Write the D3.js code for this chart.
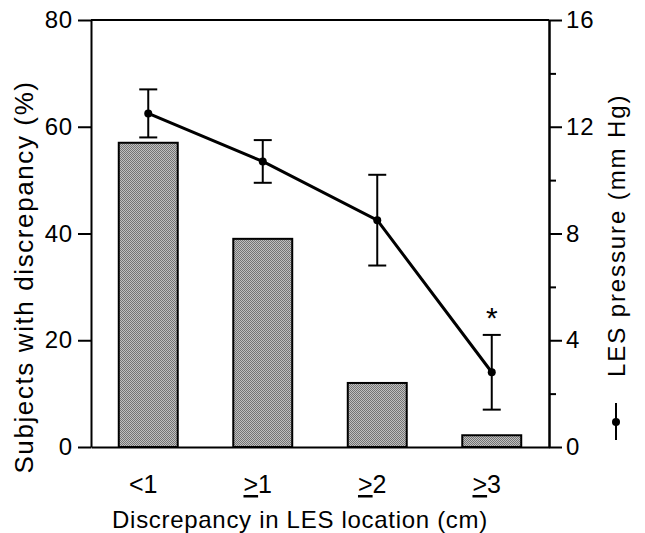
<!DOCTYPE html>
<html>
<head>
<meta charset="utf-8">
<script src="https://cdn.jsdelivr.net/npm/d3@7"></script>
<style>
  body { margin: 0; background: #fff; }
  svg text { font-family: Arial, "Liberation Sans", Helvetica, sans-serif; fill: #000; }
</style>
</head>
<body>
<div class="vis"></div>
<script>
// discrepancy groups (cm)
const categories = ['<1', '≥1', '≥2', '≥3']
// bars: subjects with discrepancy (%)
const subjectsPct = [57, 39, 12, 2.2]
// line: LES pressure (mm Hg), mean and error
const lesPressure = [12.5, 10.7, 8.5, 2.8]
const lesError = [0.9, 0.8, 1.7, 1.4]
const significant = [false, false, false, true]

const leftTicks = [0, 20, 40, 60, 80]
const rightTicks = [0, 4, 8, 12, 16]
const rightMinorTicks = [2, 6, 10, 14]

const w = 645
const h = 533
const margin = { top: 20, right: 96, bottom: 86, left: 91 }

const points = categories.map((c, i) => ({
    cat: c,
    value: lesPressure[i],
    err: lesError[i],
    sig: significant[i]
}))

const svg = d3.select('.vis')
    .append('svg')
    .attr('width', w)
    .attr('height', h)

// dithered grey fill for the bars
const pat = svg.append('defs').append('pattern')
    .attr('id', 'dots')
    .attr('width', 2)
    .attr('height', 2)
    .attr('patternUnits', 'userSpaceOnUse')
pat.append('rect').attr('width', 2).attr('height', 2).attr('fill', '#c0c0c0')
pat.append('rect').attr('width', 1).attr('height', 1).attr('fill', '#747474')
pat.append('rect').attr('x', 1).attr('y', 1).attr('width', 1).attr('height', 1).attr('fill', '#747474')

// scales
const xScale = d3.scaleBand()
    .domain(categories)
    .range([margin.left, w - margin.right])
    .paddingInner(0.485)
    .paddingOuter(0.2425)

const yLeft = d3.scaleLinear()
    .domain([0, 80])
    .range([h - margin.bottom, margin.top])

const yRight = d3.scaleLinear()
    .domain([0, 16])
    .range([h - margin.bottom, margin.top])

const cx = (c) => xScale(c) + xScale.bandwidth() / 2

// bars
svg.selectAll('rect.bar')
    .data(categories)
    .enter().append('rect')
    .attr('class', 'bar')
    .attr('x', (d) => xScale(d))
    .attr('width', xScale.bandwidth())
    .attr('y', (d, i) => yLeft(subjectsPct[i]))
    .attr('height', (d, i) => yLeft(0) - yLeft(subjectsPct[i]))
    .attr('fill', 'url(#dots)')
    .attr('stroke', '#000')
    .attr('stroke-width', 2)

// axes
const axisStyle = (g) => {
    g.select('.domain').attr('stroke', '#000').attr('stroke-width', 2)
    g.selectAll('.tick line').attr('stroke', '#000').attr('stroke-width', 2)
    g.selectAll('.tick text')
        .attr('font-size', 24)
        .attr('letter-spacing', 0.8)
        .attr('font-family', 'Arial, "Liberation Sans", sans-serif')
}

svg.append('g')
    .attr('class', 'y-left')
    .attr('transform', 'translate(' + margin.left + ',0)')
    .call(d3.axisLeft(yLeft).tickValues(leftTicks).tickSize(13).tickPadding(5).tickSizeOuter(0))
    .call(axisStyle)

svg.append('g')
    .attr('class', 'y-right-minor')
    .attr('transform', 'translate(' + (w - margin.right) + ',0)')
    .call(d3.axisRight(yRight).tickValues(rightMinorTicks).tickSize(7).tickFormat('').tickSizeOuter(0))
    .call(axisStyle)

svg.append('g')
    .attr('class', 'y-right')
    .attr('transform', 'translate(' + (w - margin.right) + ',0)')
    .call(d3.axisRight(yRight).tickValues(rightTicks).tickSize(13).tickPadding(4).tickSizeOuter(0))
    .call(axisStyle)

// bottom and top frame lines
svg.append('g')
    .attr('class', 'x-axis')
    .attr('transform', 'translate(0,' + (h - margin.bottom) + ')')
    .call(d3.axisBottom(xScale).tickSize(0).tickFormat('').tickSizeOuter(0))
    .call(axisStyle)

svg.append('line')
    .attr('x1', margin.left).attr('x2', w - margin.right)
    .attr('y1', margin.top).attr('y2', margin.top)
    .attr('stroke', '#000').attr('stroke-width', 2)

// category labels, ">" underlined for "≥"
const xl = svg.append('g').attr('class', 'x-labels')
categories.forEach((c) => {
    const t = xl.append('text')
        .attr('x', cx(c) - 5)
        .attr('y', h - margin.bottom + 46)
        .attr('text-anchor', 'middle')
        .attr('font-size', 25)
    if (c[0] === '≥') {
        t.append('tspan').attr('text-decoration', 'underline').text('>')
        t.append('tspan').text(c.slice(1))
    } else {
        t.text(c)
    }
})

// pressure line with error bars
const line = d3.line()
    .x((d) => cx(d.cat))
    .y((d) => yRight(d.value))

svg.append('path')
    .datum(points)
    .attr('d', line)
    .attr('fill', 'none')
    .attr('stroke', '#000')
    .attr('stroke-width', 3)

const err = svg.selectAll('g.err')
    .data(points)
    .enter().append('g')
    .attr('class', 'err')

err.append('line')
    .attr('x1', (d) => cx(d.cat))
    .attr('x2', (d) => cx(d.cat))
    .attr('y1', (d) => yRight(d.value + d.err))
    .attr('y2', (d) => yRight(d.value - d.err))
    .attr('stroke', '#000').attr('stroke-width', 2)

;[1, -1].forEach((s) => {
    err.append('line')
        .attr('x1', (d) => cx(d.cat) - 9)
        .attr('x2', (d) => cx(d.cat) + 9)
        .attr('y1', (d) => yRight(d.value + s * d.err))
        .attr('y2', (d) => yRight(d.value + s * d.err))
        .attr('stroke', '#000').attr('stroke-width', 2)
})

err.append('circle')
    .attr('cx', (d) => cx(d.cat))
    .attr('cy', (d) => yRight(d.value))
    .attr('r', 4)
    .attr('fill', '#000')

err.filter((d) => d.sig)
    .append('text')
    .attr('x', (d) => cx(d.cat))
    .attr('y', (d) => yRight(d.value + d.err) - 7)
    .attr('text-anchor', 'middle')
    .attr('font-size', 30)
    .text('*')

// axis titles
svg.append('text')
    .attr('transform', 'translate(33,277) rotate(-90)')
    .attr('text-anchor', 'middle')
    .attr('font-size', 26)
    .attr('letter-spacing', 1.6)
    .text('Subjects with discrepancy (%)')

svg.append('text')
    .attr('x', 300)
    .attr('y', 528)
    .attr('text-anchor', 'middle')
    .attr('font-size', 24)
    .attr('letter-spacing', 0.7)
    .text('Discrepancy in LES location (cm)')

// right title with its line-and-dot key
const rt = svg.append('g')
    .attr('transform', 'translate(625,440) rotate(-90)')
rt.append('line')
    .attr('x1', 0).attr('x2', 37)
    .attr('y1', -9).attr('y2', -9)
    .attr('stroke', '#000').attr('stroke-width', 2)
rt.append('circle')
    .attr('cx', 18).attr('cy', -9).attr('r', 4)
    .attr('fill', '#000')
rt.append('text')
    .attr('x', 63)
    .attr('y', 0)
    .attr('font-size', 24)
    .attr('letter-spacing', 1.9)
    .text('LES pressure (mm Hg)')
</script>
</body>
</html>
